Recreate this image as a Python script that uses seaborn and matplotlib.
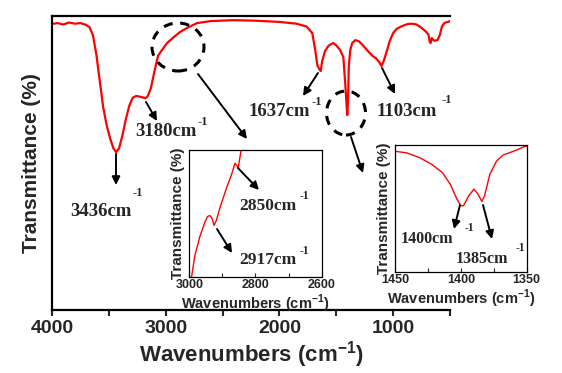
import numpy as np
import pandas as pd
import matplotlib
matplotlib.use("Agg")
import matplotlib.pyplot as plt
import seaborn as sns
from matplotlib.patches import Ellipse
from matplotlib.ticker import FixedLocator

# ===== data =====
wn_main = [4000, 3950, 3900, 3850, 3800, 3750, 3700, 3670, 3640, 3610, 3580, 3550,
           3520, 3490, 3460, 3436, 3410, 3380, 3350, 3320, 3290, 3260, 3230, 3200,
           3180, 3160, 3130, 3100, 3067, 3030, 2988, 2930, 2873, 2800, 2724, 2600,
           2400, 2200, 2000, 1850, 1760, 1711, 1685, 1667, 1650, 1637, 1625, 1600,
           1570, 1540, 1526, 1500, 1465, 1438, 1421, 1410, 1403, 1396, 1390, 1377,
           1360, 1333, 1300, 1260, 1220, 1180, 1150, 1120, 1103, 1085, 1060, 1030,
           1000, 970, 937, 900, 870, 840, 800, 760, 720, 690, 680, 672, 660, 640,
           610, 590, 570, 550, 530, 515, 500]
t_main = [97.3, 97.6, 97.1, 97.8, 97.4, 97.6, 97.0, 96.2, 93.5, 87.0, 78.0, 69.0,
          63.0, 58.5, 55.0, 53.7, 55.0, 59.5, 65.0, 69.5, 72.2, 72.8, 72.6, 72.3,
          72.0, 72.6, 75.5, 81.0, 86.5, 88.6, 90.8, 92.8, 94.6, 96.2, 97.6, 98.3,
          98.6, 98.4, 98.0, 97.4, 96.4, 94.2, 88.4, 83.3, 82.0, 81.3, 84.5, 88.0,
          89.8, 90.6, 90.8, 90.0, 88.4, 86.0, 77.0, 70.0, 66.3, 72.0, 83.0, 88.4,
          90.8, 91.8, 91.4, 89.8, 88.0, 86.4, 85.6, 84.2, 83.0, 84.5, 87.5, 91.5,
          94.2, 95.6, 96.3, 96.9, 97.3, 97.4, 97.2, 96.3, 95.0, 93.8, 91.5, 90.8,
          92.5, 91.6, 91.8, 93.5, 96.5, 97.6, 97.9, 98.0, 98.3]

wn_ch = [2998, 2993, 2983, 2968, 2953, 2945, 2938, 2932, 2925, 2918, 2907, 2887,
         2872, 2862, 2856, 2852, 2847, 2842, 2835]
t_ch = [-3, 0, 17, 32, 43.4, 47.9, 48.7, 47, 40.8, 45, 55.3, 71,
        81.6, 90.3, 88.5, 86.8, 95, 103, 115]

wn_no3 = [1450, 1441, 1431, 1422, 1414, 1408, 1403, 1400, 1398, 1394, 1390, 1387,
          1384, 1382, 1378, 1373, 1368, 1360, 1351, 1350]
t_no3 = [96.0, 94.7, 90.8, 85.5, 79.0, 69.7, 57.9, 52.6, 52.6, 60.5, 65.8, 61.8,
         56.0, 60.5, 77.6, 88.0, 93.0, 96.0, 100.0, 100.0]

main_peaks = ["3436", "3180", "1637", "1103"]
ch_peaks = ["2850", "2917"]
no3_peaks = ["1400", "1385"]

df_main = pd.DataFrame({"wn": wn_main, "T": t_main})
df_ch = pd.DataFrame({"wn": wn_ch, "T": t_ch})
df_no3 = pd.DataFrame({"wn": wn_no3, "T": t_no3})

# ===== style =====
sns.set_style("white")
plt.rcParams['font.family'] = ['Liberation Sans', 'DejaVu Sans']
plt.rcParams['mathtext.fontset'] = 'custom'
plt.rcParams['mathtext.rm'] = 'Liberation Sans'
plt.rcParams['mathtext.bf'] = 'Liberation Sans:bold'

W, H = 562, 373


def fp(x, y):
    # reference pixel -> figure fraction
    return (x / W, 1 - y / H)


fig = plt.figure(figsize=(5.62, 3.73), dpi=100)
ax = fig.add_axes([0.0925, 0.169, 0.7082, 0.788])

sns.lineplot(data=df_main, x="wn", y="T", sort=False, color="#ff0000", lw=1.6, ax=ax)
ax.set_xlim(4000, 500)
ax.set_ylim(0, 100)
ax.xaxis.set_major_locator(FixedLocator([4000, 3000, 2000, 1000]))
ax.xaxis.set_minor_locator(FixedLocator([3500, 2500, 1500, 500]))
ax.tick_params(axis='x', which='both', direction='out', length=4, width=1.5,
               bottom=True, labelsize=14, pad=3)
for lab in ax.get_xticklabels():
    lab.set_fontweight('bold')
ax.set_yticks([])
ax.set_xlabel(r"Wavenumbers (cm$^{\mathbf{-1}}$)", fontsize=16, fontweight='bold', labelpad=2)
ax.set_ylabel("Transmittance (%)", fontsize=15, fontweight='bold', labelpad=8)
for s in ["left", "bottom", "top"]:
    ax.spines[s].set_linewidth(1.6)
    ax.spines[s].set_color('k')
ax.spines["right"].set_visible(False)

# ===== insets =====
def style_inset(a, lo, hi, major, minor):
    a.set_xlim(lo, hi)
    a.set_ylim(0, 101)
    a.xaxis.set_major_locator(FixedLocator(major))
    a.xaxis.set_minor_locator(FixedLocator(minor))
    a.tick_params(axis='x', which='both', direction='in', length=3, width=0.8,
                  bottom=True, labelsize=9, pad=2)
    for lab in a.get_xticklabels():
        lab.set_fontweight('bold')
    a.set_yticks([])
    a.set_xlabel(r"Wavenumbers (cm$^{\mathbf{-1}}$)", fontsize=10.5, fontweight='bold', labelpad=1)
    a.set_ylabel("Transmittance (%)", fontsize=11, fontweight='bold', labelpad=3)
    for s in a.spines.values():
        s.set_linewidth(0.9)
        s.set_color('k')


ax1 = fig.add_axes([0.3368, 0.2582, 0.2356, 0.340])
sns.lineplot(data=df_ch, x="wn", y="T", sort=False, color="#ff0000", lw=1.0, ax=ax1)
style_inset(ax1, 3000, 2600, [3000, 2800, 2600], [2900, 2700])

ax2 = fig.add_axes([0.7028, 0.2716, 0.2344, 0.3397])
sns.lineplot(data=df_no3, x="wn", y="T", sort=False, color="#ff0000", lw=1.0, ax=ax2)
style_inset(ax2, 1450, 1350, [1450, 1400, 1350], [1425, 1375])

# ===== annotations =====
arrow = dict(arrowstyle='-|>', color='k', lw=1.4, mutation_scale=12, shrinkA=0, shrinkB=0)
serif = ['Liberation Serif', 'DejaVu Serif']


def label(a, text, tpos, spos, tail, head, size, ssize=9):
    a.annotate("", xy=fp(*head), xytext=fp(*tail), xycoords='figure fraction',
               textcoords='figure fraction', arrowprops=arrow, annotation_clip=False)
    fig.text(*fp(*tpos), text + "cm", family=serif, fontweight='bold', fontsize=size,
             ha='center', va='center')
    fig.text(*fp(*spos), "-1", family=serif, fontweight='bold', fontsize=ssize,
             ha='center', va='center')


label(ax, main_peaks[0], (101, 211), (138, 193), (116, 154), (116, 185), 13.5)
label(ax, main_peaks[1], (166, 131), (203, 122), (146, 102), (157, 121), 13.5)
label(ax, main_peaks[2], (279, 112), (317, 102), (318, 73), (303, 96), 13.5)
label(ax, main_peaks[3], (407, 111), (447, 100), (382, 68), (395, 94), 13.5)

label(ax1, ch_peaks[0], (268, 206), (304, 196), (238, 168), (259, 190), 12.5, 8.5)
label(ax1, ch_peaks[1], (268, 260), (304, 251), (217, 229), (232, 253), 12.5, 8.5)

label(ax2, no3_peaks[0], (427, 239), (469, 228), (460, 205), (454, 229), 11.5, 8.5)
label(ax2, no3_peaks[1], (482, 259), (520, 248), (483, 205), (492, 239), 11.5, 8.5)

# dashed circles + pointer arrows to insets
for c, w, h in [((178, 47), 52, 48), ((346, 113), 39, 44)]:
    fig.add_artist(Ellipse(fp(*c), w / W, h / H, transform=fig.transFigure, fill=False,
                           ec='k', lw=2.2, ls=(0, (3, 2.5))))
ax.annotate("", xy=fp(247, 139), xytext=fp(198, 74), xycoords='figure fraction',
            textcoords='figure fraction', arrowprops=arrow, annotation_clip=False)
ax.annotate("", xy=fp(363, 173), xytext=fp(351, 137), xycoords='figure fraction',
            textcoords='figure fraction', arrowprops=arrow, annotation_clip=False)

fig.savefig("out.png", dpi=100)
